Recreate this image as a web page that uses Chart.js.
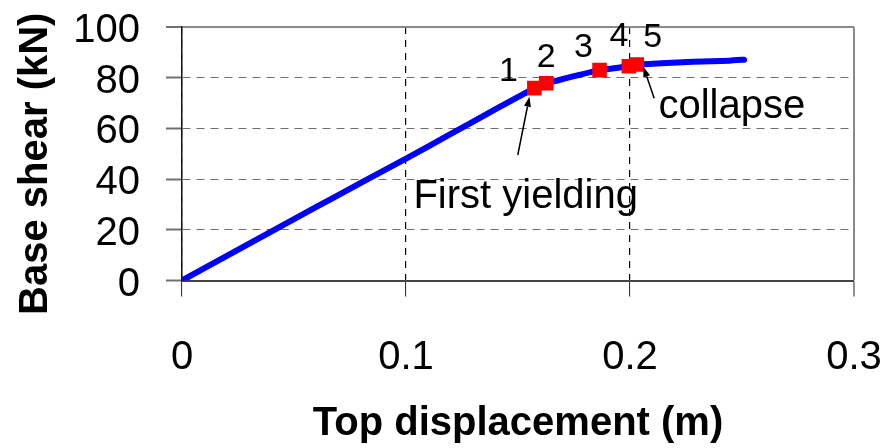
<!DOCTYPE html>
<html>
<head>
<meta charset="utf-8">
<script src="https://cdn.jsdelivr.net/npm/chart.js@4.4.1/dist/chart.umd.min.js"></script>
<style>
  html, body { margin: 0; padding: 0; background: #ffffff; }
  #wrap { width: 888px; height: 448px; }
</style>
</head>
<body>
<div id="wrap"><canvas id="pushover"></canvas></div>
<script>
// Pushover curve: top displacement (m) vs base shear (kN)
const displacement = [0, 0.02, 0.04, 0.06, 0.08, 0.10, 0.12, 0.14, 0.1573, 0.1626, 0.168, 0.175, 0.1864, 0.1995, 0.2030, 0.2063, 0.2141, 0.2282, 0.2446, 0.2509];
const baseShear    = [0, 9.7, 19.4, 29.0, 38.6, 48.1, 57.8, 67.6, 75.9, 77.8, 79.0, 80.6, 83.0, 84.5, 85.2, 85.3, 85.7, 86.3, 86.7, 87.1];

// Hinge formation stages
const stageLabels = ['1', '2', '3', '4', '5'];
const stageDisp   = [0.1573, 0.1626, 0.1864, 0.1995, 0.2030];
const stageShear  = [75.9, 77.8, 83.0, 84.5, 85.2];

// Axis ticks
const xTicks = [0, 0.1, 0.2, 0.3];
const yTicks = [0, 20, 40, 60, 80, 100];

const FONT = '"Liberation Sans", Arial, Helvetica, sans-serif';
const Y_TITLE = 'Base shear (kN)';

// Pixel offsets of each stage number from its marker (text baseline, centred)
const stageLabelOffset = [[-26, -7], [0, -16], [-16, -13], [-10, -20], [16, -18]];

// Callout texts with arrows, anchored in data units
const callouts = [
  { text: 'First yielding', at: [0.1033, 28.5], tail: [0.1499, 49.5], tip: [0.1551, 72.5] },
  { text: 'collapse',       at: [0.2127, 64.0], tail: [0.2108, 71.9], tip: [0.2060, 84.3] }
];

const notesPlugin = {
  id: 'pushoverNotes',
  afterDatasetsDraw(chart) {
    const { ctx, scales: { x, y } } = chart;
    ctx.save();
    ctx.fillStyle = '#000000';
    ctx.textBaseline = 'alphabetic';

    ctx.font = '34px ' + FONT;
    ctx.textAlign = 'center';
    stageLabels.forEach((t, i) => {
      const [dx, dy] = stageLabelOffset[i];
      ctx.fillText(t, x.getPixelForValue(stageDisp[i]) + dx, y.getPixelForValue(stageShear[i]) + dy);
    });

    ctx.font = '40px ' + FONT;
    ctx.textAlign = 'left';
    ctx.strokeStyle = '#000000';
    ctx.lineWidth = 1.5;
    callouts.forEach(c => {
      ctx.fillText(c.text, x.getPixelForValue(c.at[0]), y.getPixelForValue(c.at[1]));
      const x1 = x.getPixelForValue(c.tail[0]), y1 = y.getPixelForValue(c.tail[1]);
      const x2 = x.getPixelForValue(c.tip[0]),  y2 = y.getPixelForValue(c.tip[1]);
      const ang = Math.atan2(y2 - y1, x2 - x1);
      const headLen = 10, headHalf = 3.5;
      const bx = x2 - headLen * Math.cos(ang), by = y2 - headLen * Math.sin(ang);
      ctx.beginPath();
      ctx.moveTo(x1, y1);
      ctx.lineTo(bx, by);
      ctx.stroke();
      ctx.beginPath();
      ctx.moveTo(x2, y2);
      ctx.lineTo(bx + headHalf * Math.sin(ang), by - headHalf * Math.cos(ang));
      ctx.lineTo(bx - headHalf * Math.sin(ang), by + headHalf * Math.cos(ang));
      ctx.closePath();
      ctx.fill();
    });
    ctx.restore();
  },
  afterDraw(chart) {
    // vertical axis title, sitting a little below the plot's mid-height
    const { ctx, chartArea } = chart;
    ctx.save();
    ctx.translate(chartArea.left - 146, (chartArea.top + chartArea.bottom) / 2 + 10);
    ctx.rotate(-Math.PI / 2);
    ctx.font = 'bold 40px ' + FONT;
    ctx.fillStyle = '#000000';
    ctx.textAlign = 'center';
    ctx.textBaseline = 'middle';
    ctx.fillText(Y_TITLE, 0, 0);
    ctx.restore();
  }
};

const whiteBackground = {
  id: 'whiteBackground',
  beforeDraw(chart) {
    const { ctx, width, height } = chart;
    ctx.save();
    ctx.fillStyle = '#ffffff';
    ctx.fillRect(0, 0, width, height);
    ctx.restore();
  }
};

const curve = displacement.map((d, i) => ({ x: d, y: baseShear[i] }));
const stages = stageDisp.map((d, i) => ({ x: d, y: stageShear[i] }));

new Chart(document.getElementById('pushover'), {
  type: 'line',
  data: {
    datasets: [
      {
        label: 'Stages',
        data: stages,
        showLine: false,
        pointStyle: 'rect',
        pointRadius: 10.3,
        pointBackgroundColor: '#ff0000',
        pointBorderWidth: 0,
        order: 0
      },
      {
        label: 'Pushover',
        data: curve,
        borderColor: '#0000ff',
        borderWidth: 6,
        borderCapStyle: 'round',
        borderJoinStyle: 'round',
        pointRadius: 0,
        tension: 0.1,
        fill: false,
        order: 1
      }
    ]
  },
  options: {
    responsive: true,
    maintainAspectRatio: false,
    animation: false,
    events: [],
    layout: { padding: { top: 27, right: 34, left: 0, bottom: 0 } },
    plugins: { legend: { display: false }, tooltip: { enabled: false } },
    scales: {
      x: {
        type: 'linear',
        min: 0,
        max: 0.3,
        afterBuildTicks: s => { s.ticks = xTicks.map(v => ({ value: v })); },
        afterFit: s => { s.height = 167.5; s.paddingLeft = 0; s.paddingRight = 0; },
        ticks: {
          font: { family: FONT, size: 40 },
          color: '#000000',
          padding: 37,
          maxRotation: 0,
          autoSkip: false,
          callback: v => String(v)
        },
        grid: {
          color: c => (c.index === xTicks.length - 1 ? '#8a8a8a' : '#000000'),
          lineWidth: c => (c.index === xTicks.length - 1 ? 2 : 1.2),
          tickLength: 16,
          tickColor: '#222222',
          tickWidth: 1
        },
        border: {
          display: true,
          color: '#444444',
          width: 2,
          dash: c => (c.index === xTicks.length - 1 ? [] : [7, 6])
        },
        title: {
          display: true,
          text: 'Top displacement (m)',
          color: '#000000',
          font: { family: FONT, size: 40, weight: 'bold' },
          padding: { top: 0, bottom: 0 }
        }
      },
      y: {
        type: 'linear',
        min: 0,
        max: 100,
        afterBuildTicks: s => { s.ticks = yTicks.map(v => ({ value: v })); },
        afterFit: s => { s.width = 182; s.paddingTop = 0; s.paddingBottom = 0; },
        ticks: {
          font: { family: FONT, size: 40 },
          color: '#000000',
          padding: 26,
          labelOffset: 4,
          autoSkip: false
        },
        grid: {
          color: c => (c.index === yTicks.length - 1 ? '#8a8a8a' : '#6e6e6e'),
          lineWidth: c => (c.index === yTicks.length - 1 ? 2 : 1),
          tickLength: 16,
          tickColor: '#707070',
          tickWidth: 2
        },
        border: {
          display: true,
          color: '#111111',
          width: 1.5,
          dash: c => (c.index === yTicks.length - 1 ? [] : [8, 6])
        },
        title: { display: false }
      }
    }
  },
  plugins: [whiteBackground, notesPlugin]
});
</script>
</body>
</html>
